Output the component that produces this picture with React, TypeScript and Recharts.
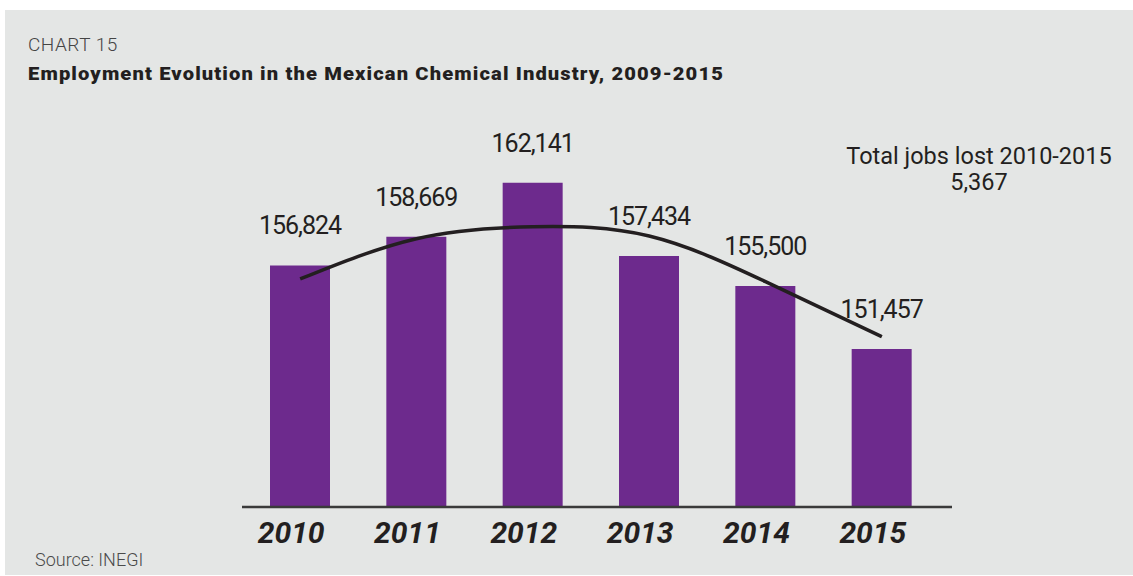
import React from "react";
import { ComposedChart, Bar, Line, XAxis, YAxis, LabelList } from "recharts";

const years = ["2010", "2011", "2012", "2013", "2014", "2015"];
const employment = [156824, 158669, 162141, 157434, 155500, 151457];
const trend = [155950, 158540, 159310, 158710, 155780, 152240];
const yDomain = [141300, 167000];

const data = years.map((y, i) => ({ year: y, value: employment[i], trend: trend[i] }));

const FONT = "Roboto, 'Noto Sans', sans-serif";
const DARK = "#231f20";

const YearTick = (props: any) => {
  const { x, y, payload } = props;
  return (
    <text
      x={x - 9}
      y={y}
      dy={28}
      textAnchor="middle"
      fontFamily={FONT}
      fontSize={30}
      fontWeight={700}
      fontStyle="italic"
      fill={DARK}
    >
      {payload.value}
    </text>
  );
};

export default function App() {
  return (
    <div style={{ position: "absolute", left: 0, top: 0, width: 1133, height: 576, background: "#ffffff", overflow: "hidden" }}>
      <div style={{ position: "absolute", left: 5, top: 10, width: 1128, height: 565, background: "#e4e6e5" }} />
      <div style={{ position: "absolute", left: 28, top: 35, fontFamily: FONT, fontSize: 19, fontWeight: 300, color: "#444", letterSpacing: 0.5, lineHeight: "20px" }}>
        CHART 15
      </div>
      <div
        style={{
          position: "absolute",
          left: 28,
          top: 64,
          fontFamily: FONT,
          fontSize: 18,
          fontWeight: 900,
          color: DARK,
          letterSpacing: 1,
          lineHeight: "20px",
          whiteSpace: "nowrap",
          transform: "scaleX(1.12)",
          transformOrigin: "left center",
        }}
      >
        Employment Evolution in the Mexican Chemical Industry, 2009-2015
      </div>
      <div style={{ position: "absolute", left: 35, top: 550, fontFamily: FONT, fontSize: 18, fontWeight: 300, color: "#4a4a4a", lineHeight: "20px" }}>
        Source: INEGI
      </div>
      <div style={{ position: "absolute", left: 829, top: 143, width: 300, textAlign: "center", fontFamily: FONT, fontSize: 23.5, fontWeight: 400, color: DARK, lineHeight: "26px" }}>
        <div>Total jobs lost 2010-2015</div>
        <div>5,367</div>
      </div>
      <div style={{ position: "absolute", left: 0, top: 0 }}>
        <ComposedChart
          width={1133}
          height={576}
          data={data}
          margin={{ top: 107, right: 181, bottom: 29, left: 242 }}
        >
          <XAxis
            dataKey="year"
            height={40}
            tickLine={false}
            tickSize={6}
            tickMargin={2}
            axisLine={{ stroke: "#3a3a3a", strokeWidth: 2.5 }}
            tick={<YearTick />}
            padding={{ left: 0, right: 12 }}
            interval={0}
          />
          <YAxis hide domain={yDomain} allowDataOverflow width={0} />
          <Bar dataKey="value" fill="#6d2a8d" barSize={60} isAnimationActive={false}>
            <LabelList
              dataKey="value"
              position="top"
              offset={31}
              formatter={(v: any) => Number(v).toLocaleString("en-US")}
              style={{ fontFamily: FONT, fontSize: 25, fill: DARK, letterSpacing: -1 }}
            />
          </Bar>
          <Line
            dataKey="trend"
            type="natural"
            stroke={DARK}
            strokeWidth={3.5}
            dot={false}
            activeDot={false}
            isAnimationActive={false}
          />
        </ComposedChart>
      </div>
    </div>
  );
}
